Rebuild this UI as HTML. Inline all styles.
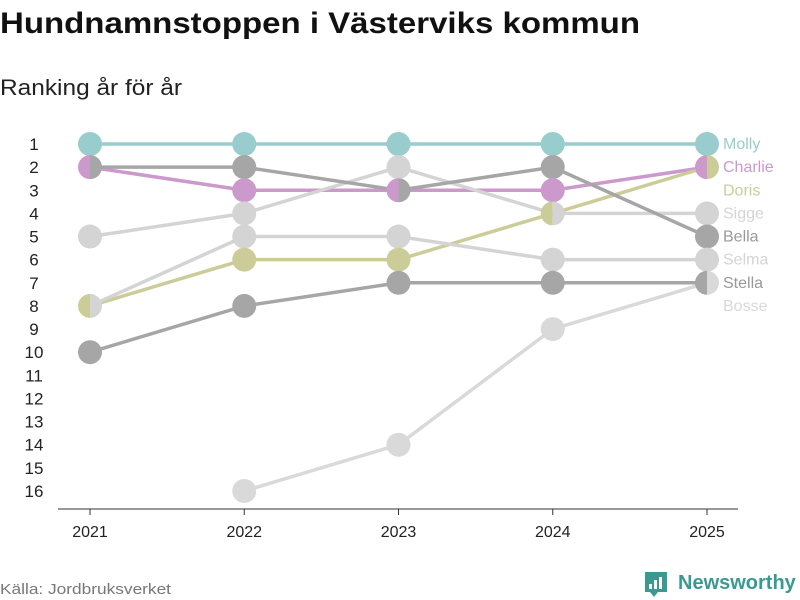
<!DOCTYPE html>
<html><head><meta charset="utf-8"><style>
body{margin:0;background:#fff;font-family:"Liberation Sans",sans-serif;}
#wrap{position:relative;width:800px;height:600px;overflow:hidden;}
</style></head><body>
<div id="wrap">
<svg id="chart" width="800" height="600">
<text x="0" y="33" font-size="30" font-weight="bold" fill="#111" textLength="640" lengthAdjust="spacingAndGlyphs">Hundnamnstoppen i Västerviks kommun</text>
<text x="0" y="95" font-size="22" fill="#222" textLength="182" lengthAdjust="spacingAndGlyphs">Ranking år för år</text>
<text x="0" y="594" font-size="15" fill="#777" textLength="171" lengthAdjust="spacingAndGlyphs">Källa: Jordbruksverket</text>
<g>
<path d="M645 572 h22 v20 h-9 l-4 5 l-4 -5 h-5 z" fill="#3a9a92"/>
<rect x="649" y="584" width="3" height="5" fill="#fff"/><rect x="654" y="580" width="3" height="9" fill="#fff"/><rect x="659" y="577" width="3" height="12" fill="#fff"/>
<text x="678" y="589" font-size="20" font-weight="bold" fill="#3a9a92">Newsworthy</text>
</g>
<g id="axes"></g><g id="lines"></g><g id="dots"></g><g id="labels"></g>
</svg>
</div>
<script>
const years = [2021, 2022, 2023, 2024, 2025];
const names = ["Molly","Charlie","Doris","Sigge","Bella","Selma","Stella","Bosse"];
const colors = ["#99cccc","#cc99cc","#cccc99","#d4d4d4","#a6a6a6","#d4d4d4","#a6a6a6","#d9d9d9"];
const rankMolly = [1,1,1,1,1];
const rankCharlie = [2,3,3,3,2];
const rankDoris = [8,6,6,4,2];
const rankSigge = [5,4,2,4,4];
const rankBella = [2,2,3,2,5];
const rankSelma = [8,5,5,6,6];
const rankStella = [10,8,7,7,7];
const rankBosse = [null,16,14,9,7];
const ranks = [rankMolly,rankCharlie,rankDoris,rankSigge,rankBella,rankSelma,rankStella,rankBosse];
const rankTicks = [1,2,3,4,5,6,7,8,9,10,11,12,13,14,15,16];

const NS="http://www.w3.org/2000/svg";
const x = i => 90 + (707-90)*(years[i]-years[0])/(years[years.length-1]-years[0]);
const y = r => 144 + (491-144)*(r-1)/15;
function mk(tag, attrs, parent){const e=document.createElementNS(NS,tag);for(const k in attrs)e.setAttribute(k,attrs[k]);parent.appendChild(e);return e;}
const axes=document.getElementById('axes'),lines=document.getElementById('lines'),dots=document.getElementById('dots'),labels=document.getElementById('labels');

let ax=mk('line',{x1:58,x2:738,y1:509,y2:509,stroke:'#333','stroke-width':1},axes);


years.forEach((yr,i)=>{
  let t=mk('line',{x1:x(i),x2:x(i),y1:509,y2:515,stroke:'#333'},axes);
  
  
  let l=mk('text',{x:x(i),y:537,'font-size':16,fill:'#222','text-anchor':'middle'},axes);
  l.textContent=yr;
  
  
});
rankTicks.forEach(r=>{
  let l=mk('text',{x:34,y:y(r)+6,'font-size':17,fill:'#222','text-anchor':'middle'},axes);
  l.textContent=r;
  
  
});

ranks.forEach((rk,s)=>{
  let pts=[];rk.forEach((r,i)=>{if(r!=null)pts.push(x(i)+','+y(r));});
  let p=mk('polyline',{points:pts.join(' '),fill:'none',stroke:colors[s],'stroke-width':3.5},lines);
  
  
});

const R=12;
years.forEach((yr,i)=>{
  const groups={};
  ranks.forEach((rk,s)=>{const r=rk[i];if(r==null)return;(groups[r]=groups[r]||[]).push(s);});
  for(const r in groups){
    const g=groups[r],cx=x(i),cy=y(+r);
    if(g.length===1){
      let c=mk('circle',{cx:cx,cy:cy,r:R,fill:colors[g[0]]},dots);
      
      
    } else {
      let a=mk('path',{d:`M${cx} ${cy-R} A${R} ${R} 0 0 0 ${cx} ${cy+R} Z`,fill:colors[g[0]]},dots);
      
      
      let b=mk('path',{d:`M${cx} ${cy-R} A${R} ${R} 0 0 1 ${cx} ${cy+R} Z`,fill:colors[g[1]]},dots);
      
      
    }
  }
});

names.forEach((n,s)=>{
  let l=mk('text',{x:723,y:y(s+1)+5,'font-size':16,fill:colors[s]==='#a6a6a6'?'#999':colors[s]},labels);
  l.textContent=n;
  
  
});
</script>
</body></html>
